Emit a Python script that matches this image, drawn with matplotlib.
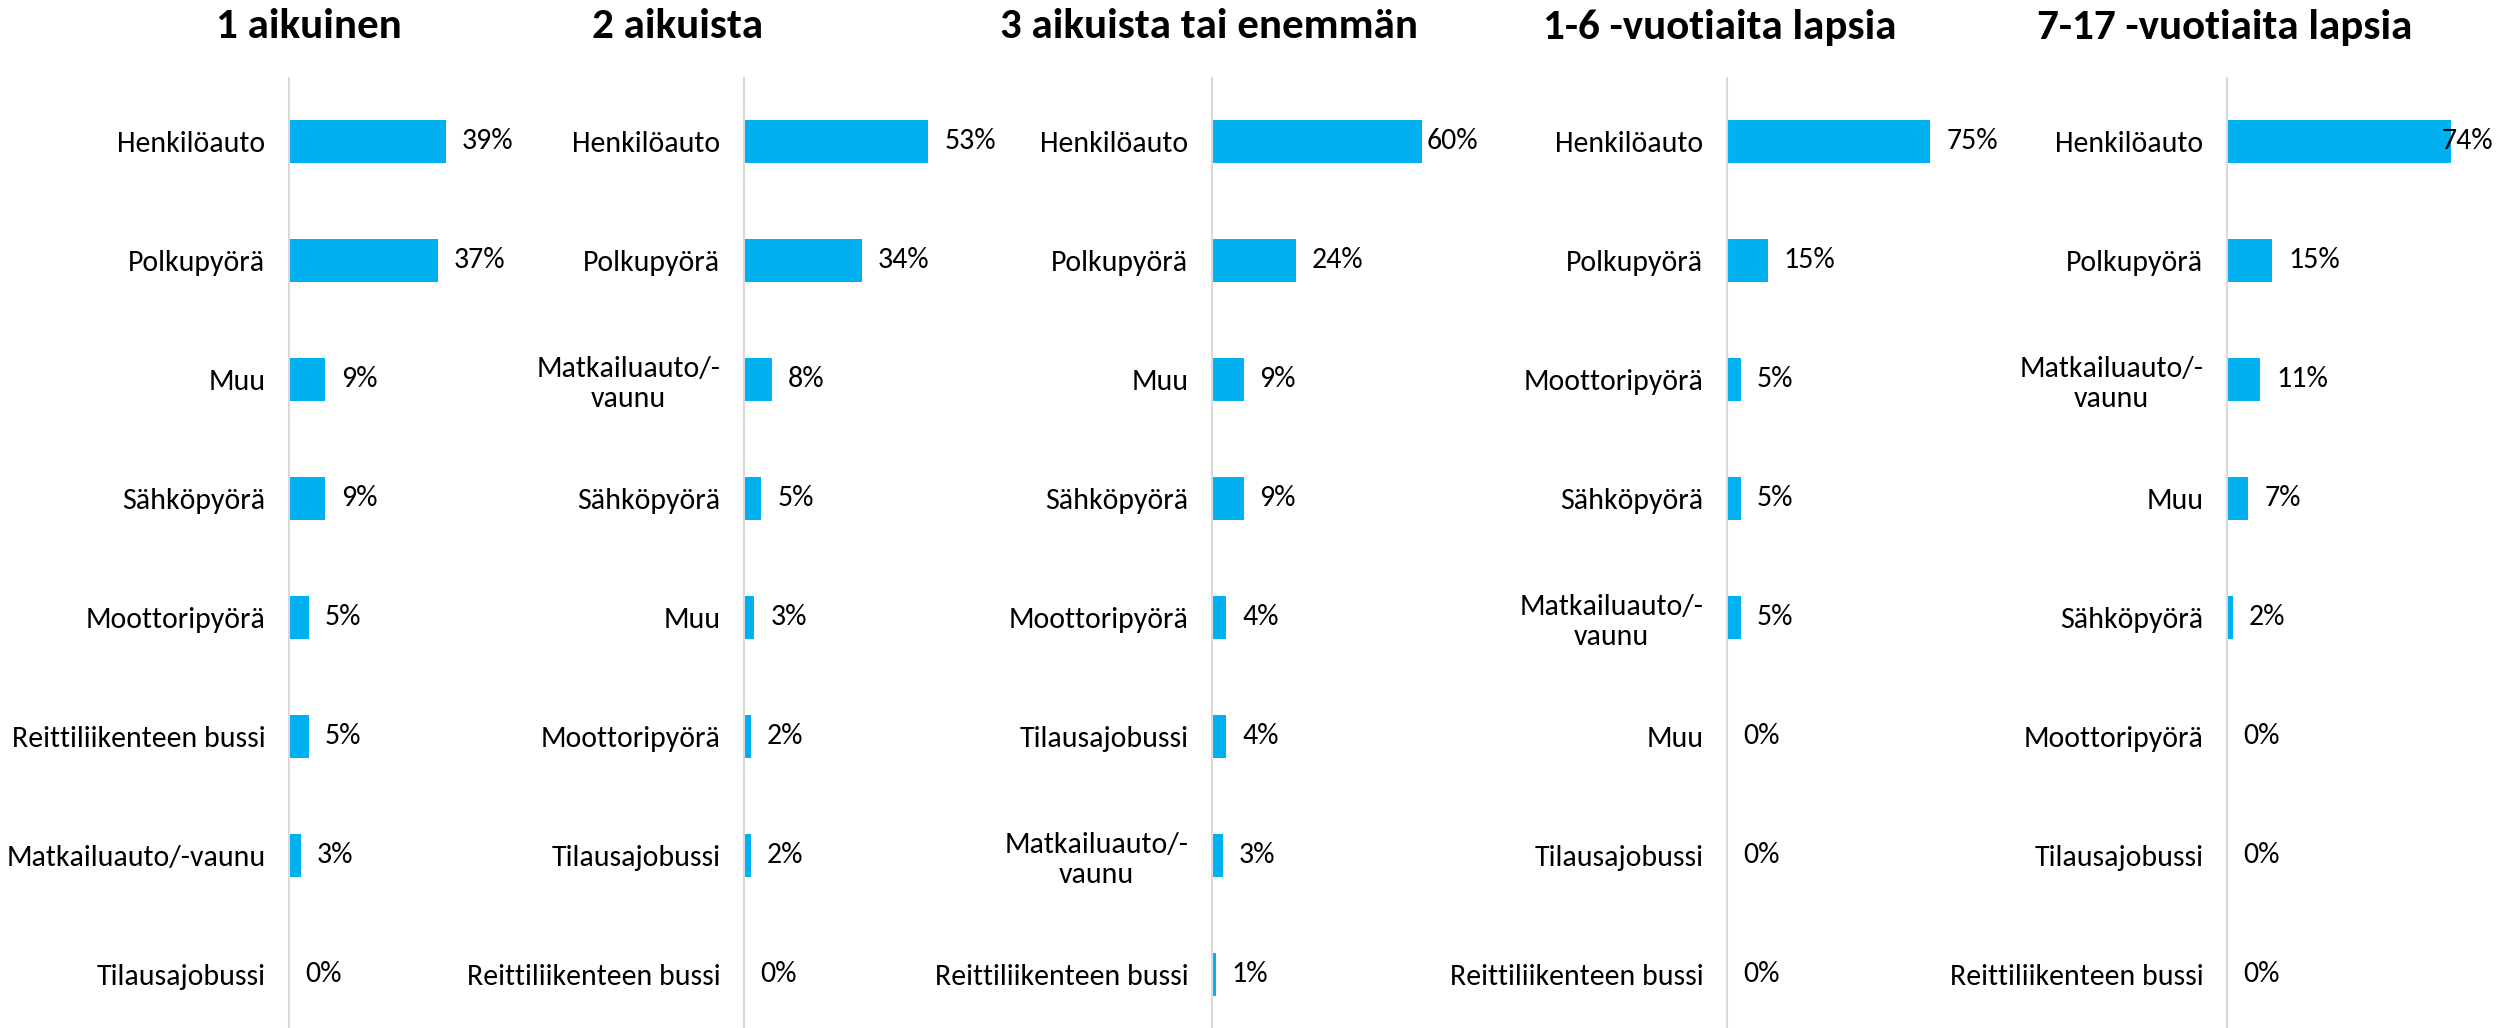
import matplotlib
matplotlib.use("Agg")
import matplotlib.pyplot as plt
from matplotlib import font_manager

# Fonts: something close to Calibri
available = {f.name for f in font_manager.fontManager.ttflist}
family = next((f for f in ["Carlito", "Calibri", "Lato", "Open Sans"] if f in available), "DejaVu Sans")
plt.rcParams["font.family"] = [family, "DejaVu Sans"]

# Data
titles = ["1 aikuinen", "2 aikuista", "3 aikuista tai enemmän",
          "1-6 -vuotiaita lapsia", "7-17 -vuotiaita lapsia"]

cats_1 = ["Henkilöauto", "Polkupyörä", "Muu", "Sähköpyörä", "Moottoripyörä",
          "Reittiliikenteen bussi", "Matkailuauto/-vaunu", "Tilausajobussi"]
vals_1 = [39, 37, 9, 9, 5, 5, 3, 0]

cats_2 = ["Henkilöauto", "Polkupyörä", "Matkailuauto/-\nvaunu", "Sähköpyörä", "Muu",
          "Moottoripyörä", "Tilausajobussi", "Reittiliikenteen bussi"]
vals_2 = [53, 34, 8, 5, 3, 2, 2, 0]

cats_3 = ["Henkilöauto", "Polkupyörä", "Muu", "Sähköpyörä", "Moottoripyörä",
          "Tilausajobussi", "Matkailuauto/-\nvaunu", "Reittiliikenteen bussi"]
vals_3 = [60, 24, 9, 9, 4, 4, 3, 1]

cats_4 = ["Henkilöauto", "Polkupyörä", "Moottoripyörä", "Sähköpyörä", "Matkailuauto/-\nvaunu",
          "Muu", "Tilausajobussi", "Reittiliikenteen bussi"]
vals_4 = [75, 15, 5, 5, 5, 0, 0, 0]

cats_5 = ["Henkilöauto", "Polkupyörä", "Matkailuauto/-\nvaunu", "Muu", "Sähköpyörä",
          "Moottoripyörä", "Tilausajobussi", "Reittiliikenteen bussi"]
vals_5 = [74, 15, 11, 7, 2, 0, 0, 0]

categories = [cats_1, cats_2, cats_3, cats_4, cats_5]
values = [vals_1, vals_2, vals_3, vals_4, vals_5]

# Layout (pixels in a 2514x1028 canvas)
W, H = 2514, 1028
axis_left = [289, 744, 1212, 1727, 2227]
axis_right = [530, 1022, 1478, 1998, 2493]
x_max = [60, 80, 76, 100, 88]
title_x = [309, 678, 1209, 1720, 2225]
ax_top, ax_bottom = 78, 0

bar_color = "#00B0F0"
label_size = 21.5
title_size = 31

fig = plt.figure(figsize=(W / 100, H / 100), dpi=100)

axes = []
texts = []
for i in range(5):
    ax = fig.add_axes([axis_left[i] / W, ax_bottom / H,
                       (axis_right[i] - axis_left[i]) / W, (H - ax_top - ax_bottom) / H])
    ax.patch.set_alpha(0)
    y = list(range(len(values[i])))
    ax.barh(y, values[i], height=0.36, color=bar_color)
    ax.set_xlim(0, x_max[i])
    ax.set_ylim(7.45, -0.53)
    ax.set_yticks(y)
    ax.set_yticklabels(categories[i], fontsize=label_size, multialignment="center")
    ax.tick_params(axis="y", length=0, pad=17)
    ax.set_xticks([])
    for s in ["top", "right", "bottom"]:
        ax.spines[s].set_visible(False)
    ax.spines["left"].set_color("#d9d9d9")
    ax.spines["left"].set_linewidth(1.5)

    # value labels, offset by a few pixels from the bar end
    px_per_unit = (axis_right[i] - axis_left[i]) / x_max[i]
    gap = 16 / px_per_unit
    row = []
    for yy, v in zip(y, values[i]):
        t = ax.text(v + gap, yy, f"{v}%", va="center", ha="left",
                    fontsize=label_size, clip_on=False)
        row.append(t)
    texts.append(row)
    axes.append(ax)

    fig.text(title_x[i] / W, 1 - 27 / H, titles[i], ha="center", va="center",
             fontsize=title_size, fontweight="bold")

# keep value labels inside the plot area, like the original
fig.canvas.draw()
renderer = fig.canvas.get_renderer()
for ax, row in zip(axes, texts):
    right = ax.get_window_extent().x1
    for t in row:
        if t.get_window_extent(renderer).x1 > right:
            t.set_x(ax.get_xlim()[1])
            t.set_ha("right")

fig.savefig("out.png", dpi=100)
